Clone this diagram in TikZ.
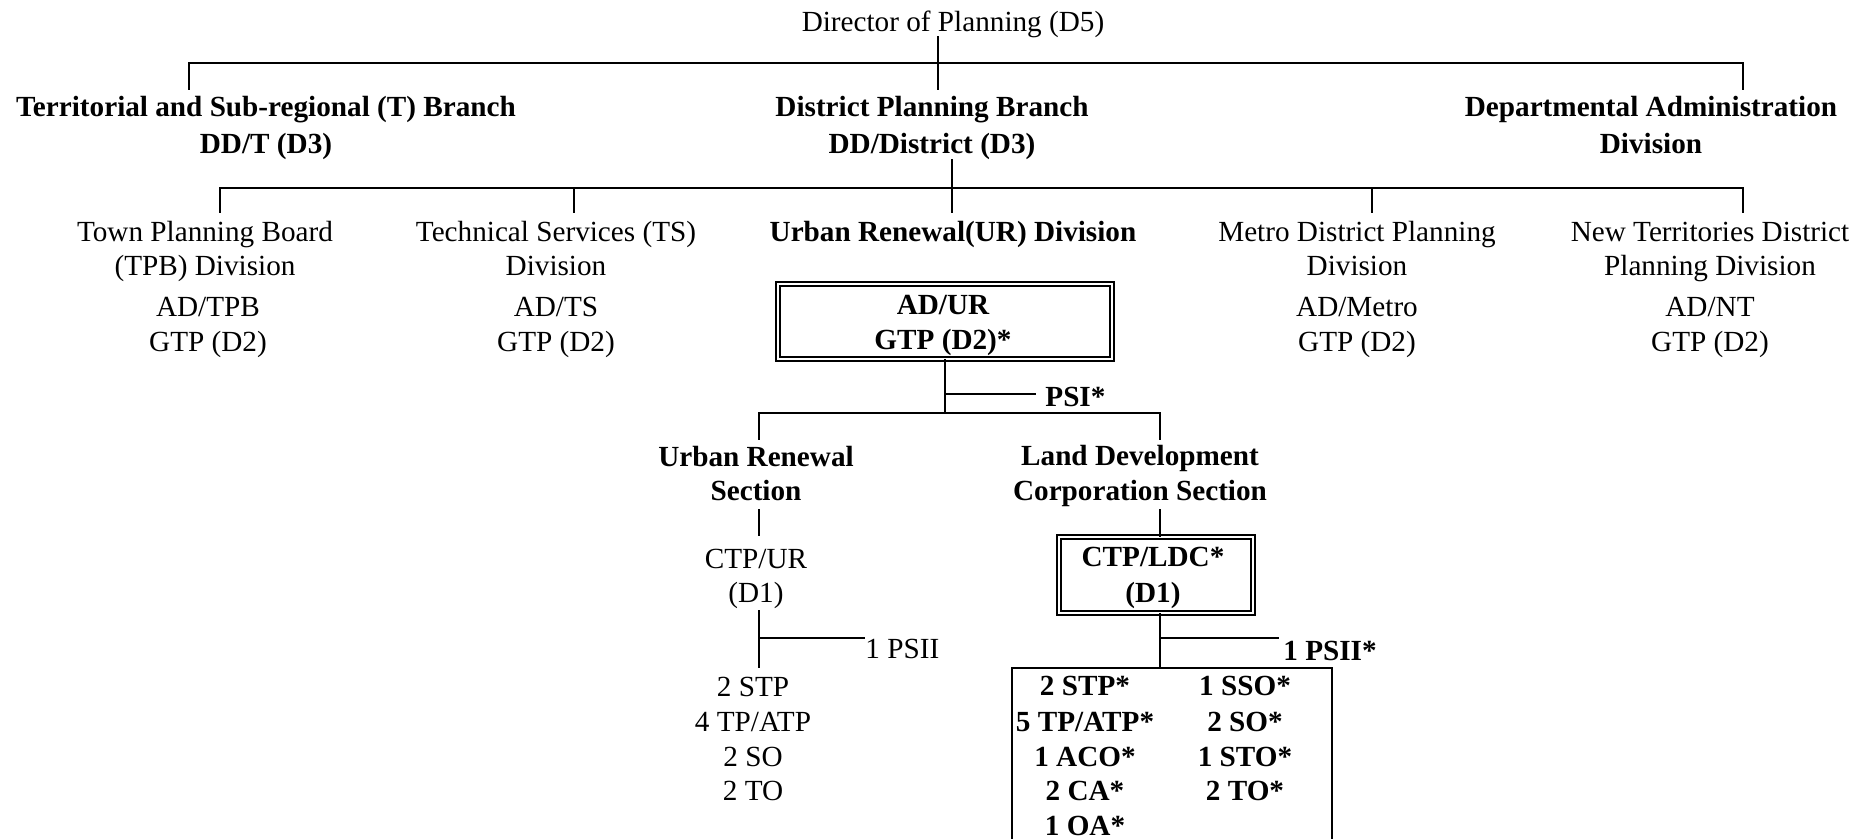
\documentclass[tikz,border=0pt]{standalone}
\usepackage{fontspec}
\setmainfont{Liberation Serif}
\newcommand{\orgfs}{\fontsize{14.6pt}{17.5pt}\selectfont}
\tikzset{
  txt/.style={inner sep=0pt, anchor=base, font=\orgfs},
  btxt/.style={inner sep=0pt, anchor=base, font=\orgfs\bfseries},
  ln/.style={line width=1.25pt, line cap=rect},
  dbox/.style={draw, line width=1pt, double=white, double distance=1pt, inner sep=0pt},
}
\begin{document}
\begin{tikzpicture}[x=0.5pt,y=-0.5pt]
\useasboundingbox (0,0) rectangle (1870,839);

% ---------- texts ----------
\node[txt] (dir) at (953,32) {Director of Planning (D5)};

\node[btxt] (tb1) at (266,117) {Territorial and Sub-regional (T) Branch};
\node[btxt] (tb2) at (266,154) {DD/T (D3)};
\node[btxt] (db1) at (932,117) {District Planning Branch};
\node[btxt] (db2) at (932,154) {DD/District (D3)};
\node[btxt] (ad1) at (1651,117) {Departmental Administration};
\node[btxt] (ad2) at (1651,154) {Division};

\node[txt] (tpb1) at (205,242) {Town Planning Board};
\node[txt] (tpb2) at (205,276) {(TPB) Division};
\node[txt] (tpb3) at (208,317) {AD/TPB};
\node[txt] (tpb4) at (208,352) {GTP (D2)};

\node[txt] (ts1) at (556,242) {Technical Services (TS)};
\node[txt] (ts2) at (556,276) {Division};
\node[txt] (ts3) at (556,317) {AD/TS};
\node[txt] (ts4) at (556,352) {GTP (D2)};

\node[btxt] (ur1) at (953,242) {Urban Renewal(UR) Division};

\node[txt] (me1) at (1357,242) {Metro District Planning};
\node[txt] (me2) at (1357,276) {Division};
\node[txt] (me3) at (1357,317) {AD/Metro};
\node[txt] (me4) at (1357,352) {GTP (D2)};

\node[txt] (nt1) at (1710,242) {New Territories District};
\node[txt] (nt2) at (1710,276) {Planning Division};
\node[txt] (nt3) at (1710,317) {AD/NT};
\node[txt] (nt4) at (1710,352) {GTP (D2)};

% AD/UR box
\node[dbox, minimum width=167pt, minimum height=37.5pt] (adur) at (945,321.5) {};
\node[btxt] (adur1) at (943,315) {AD/UR};
\node[btxt] (adur2) at (943,350) {GTP (D2)*};

\node[btxt, anchor=base west] (psi) at (1045,407) {PSI*};

\node[btxt] (urs1) at (756,467) {Urban Renewal};
\node[btxt] (urs2) at (756,501) {Section};
\node[btxt] (ldc1) at (1140,466) {Land Development};
\node[btxt] (ldc2) at (1140,501) {Corporation Section};

\node[txt] (ctpur1) at (756,568) {CTP/UR};
\node[txt] (ctpur2) at (756,603) {(D1)};

\node[dbox, minimum width=97pt, minimum height=38pt] (ldcb) at (1156,575) {};
\node[btxt] (ctpl1) at (1153,567) {CTP/LDC*};
\node[btxt] (ctpl2) at (1153,603) {(D1)};

\node[txt, anchor=base west] (psii) at (865,659) {1 PSII};
\node[btxt, anchor=base west] (psiis) at (1283,661) {1 PSII*};

\node[txt] (l1) at (753,697) {2 STP};
\node[txt] (l2) at (753,731) {4 TP/ATP};
\node[txt] (l3) at (753,766) {2 SO};
\node[txt] (l4) at (753,800) {2 TO};

\node[btxt] (r11) at (1085,696) {2 STP*};
\node[btxt] (r12) at (1085,731) {5 TP/ATP*};
\node[btxt] (r13) at (1085,766) {1 ACO*};
\node[btxt] (r14) at (1085,800) {2 CA*};
\node[btxt] (r15) at (1085,835) {1 OA*};
\node[btxt] (r21) at (1245,696) {1 SSO*};
\node[btxt] (r22) at (1245,731) {2 SO*};
\node[btxt] (r23) at (1245,766) {1 STO*};
\node[btxt] (r24) at (1245,800) {2 TO*};

% ---------- connectors ----------
\coordinate (d0) at (938,37);
\coordinate (d1) at (938,89);
\coordinate (t1) at (189,89);
\coordinate (b1r) at (1743,63);
\coordinate (a1) at (1743,89);
\draw[ln] (d0) -- (d1);
\draw[ln] (t1) |- (b1r) -- (a1);

\coordinate (e0) at (952,160);
\coordinate (e1) at (952,212);
\coordinate (k1) at (220,212);
\coordinate (k2) at (574,212);
\coordinate (k4) at (1372,212);
\coordinate (k5) at (1743,212);
\coordinate (b2r) at (1743,188);
\draw[ln] (e0) -- (e1);
\draw[ln] (k1) |- (b2r) -- (k5);
\draw[ln] (k2) -- (k2 |- b2r);
\draw[ln] (k4) -- (k4 |- b2r);

\coordinate (f1) at (945,413);
\coordinate (pj) at (945,394);
\coordinate (pe) at (1035,394);
\coordinate (g1) at (759,439);
\coordinate (g2) at (1160,439);
\draw[ln] (adur.south) -- (f1);
\draw[ln] (pj) -- (pe);
\draw[ln] (g1) |- (g2 |- f1) -- (g2);

\coordinate (u0) at (759,510);
\coordinate (u1) at (759,535);
\draw[ln] (u0) -- (u1);
\coordinate (u2) at (759,611);
\coordinate (u3) at (759,667);
\coordinate (uj) at (759,638);
\coordinate (ue) at (864,638);
\draw[ln] (u2) -- (u3);
\draw[ln] (uj) -- (ue);

\coordinate (h0) at (1160,510);
\coordinate (h3) at (1160,668);
\coordinate (hj) at (1160,638);
\coordinate (he) at (1278,638);
\draw[ln] (h0) -- (h0 |- ldcb.north);
\draw[ln] (h0 |- ldcb.south) -- (h3);
\draw[ln] (hj) -- (he);

\coordinate (bxl) at (1012,845);
\coordinate (bxr) at (1332,845);
\coordinate (bxtr) at (1332,668);
\draw[ln] (bxl) |- (bxtr) -- (bxr);
\end{tikzpicture}
\end{document}
